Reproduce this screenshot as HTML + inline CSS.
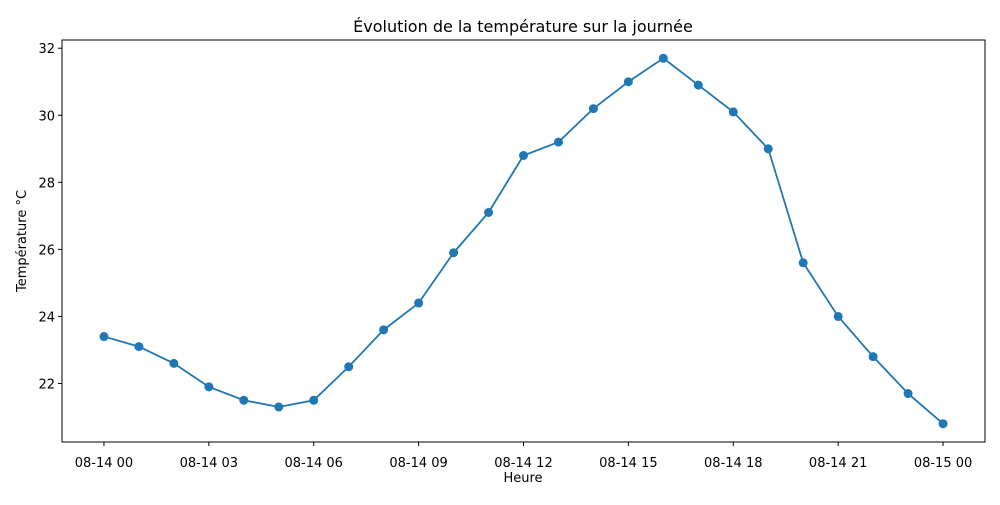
<!DOCTYPE html>
<html><head><meta charset="utf-8"><style>
body{margin:0;background:#fff;font-family:"Liberation Sans","DejaVu Sans",sans-serif;}
svg text{font-family:"DejaVu Sans","Liberation Sans",sans-serif;font-size:13px;fill:#000}
</style></head><body>
<svg id="chart" width="1000" height="500" xmlns="http://www.w3.org/2000/svg">
<text x="523" y="32" text-anchor="middle" style="font-size:16px">Évolution de la température sur la journée</text>
<text x="523" y="482" text-anchor="middle">Heure</text>
<text transform="translate(26,241) rotate(-90)" text-anchor="middle">Température °C</text>
<g id="plot"></g>
<rect x="62" y="40" width="923" height="402" fill="none" stroke="#000" stroke-width="1"/>
</svg>
<script>
const hours=[0,1,2,3,4,5,6,7,8,9,10,11,12,13,14,15,16,17,18,19,20,21,22,23,24];
const temps=[23.4,23.1,22.6,21.9,21.5,21.3,21.5,22.5,23.6,24.4,25.9,27.1,28.8,29.2,30.2,31.0,31.7,30.9,30.1,29.0,25.6,24.0,22.8,21.7,20.8];
const xTicks=[0,3,6,9,12,15,18,21,24];
const xTickLabels=["08-14 00","08-14 03","08-14 06","08-14 09","08-14 12","08-14 15","08-14 18","08-14 21","08-15 00"];
const yTicks=[22,24,26,28,30,32];
const L=62,R=985,T=40,B=442;
const xmin=-1.2,xmax=25.2;
const ymin=Math.min(...temps),ymax=Math.max(...temps),ym=(ymax-ymin)*0.05;
const y0=ymin-ym,y1=ymax+ym;
const X=h=>L+(h-xmin)/(xmax-xmin)*(R-L);
const Y=v=>B-(v-y0)/(y1-y0)*(B-T);
const NS="http://www.w3.org/2000/svg";
const g=document.getElementById('plot');
function mk(t,a){const e=document.createElementNS(NS,t);for(const k in a)e.setAttribute(k,a[k]);g.appendChild(e);return e;}
xTicks.forEach((h,i)=>{
 const l=mk('line',{x1:X(h),x2:X(h),y1:B,y2:B+4,stroke:'#000'});
 
 
 const t=mk('text',{x:X(h),y:B+25,'text-anchor':'middle'});t.textContent=xTickLabels[i];
 
 
});
yTicks.forEach(v=>{
 const l=mk('line',{x1:L-4,x2:L,y1:Y(v),y2:Y(v),stroke:'#000'});
 
 
 const t=mk('text',{x:L-7,y:Y(v)+5,'text-anchor':'end'});t.textContent=v;
 
 
});
const p=mk('polyline',{points:hours.map((h,i)=>X(h)+','+Y(temps[i])).join(' '),fill:'none',stroke:'#1f77b4','stroke-width':1.8});


hours.forEach((h,i)=>{
 const c=mk('circle',{cx:X(h),cy:Y(temps[i]),r:4.5,fill:'#1f77b4'});
 
 
});
</script>
</body></html>
